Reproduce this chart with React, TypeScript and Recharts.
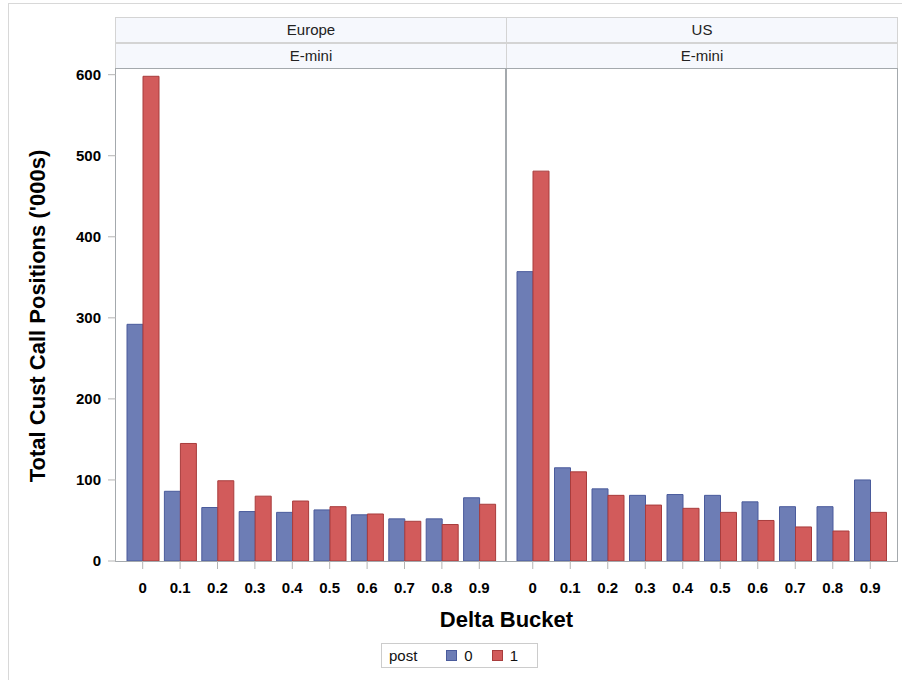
import React from "react";
import { BarChart, Bar, XAxis, YAxis } from "recharts";

// Delta buckets on the x axis
const deltaBuckets = ["0", "0.1", "0.2", "0.3", "0.4", "0.5", "0.6", "0.7", "0.8", "0.9"];

// Total cust call positions ('000s), by panel and post flag
const europePost0 = [292, 86, 66, 61, 60, 63, 57, 52, 52, 78];
const europePost1 = [598, 145, 99, 80, 74, 67, 58, 49, 45, 70];
const usPost0 = [357, 115, 89, 81, 82, 81, 73, 67, 67, 100];
const usPost1 = [481, 110, 81, 69, 65, 60, 50, 42, 37, 60];

const yTicks = [0, 100, 200, 300, 400, 500, 600];
const panels = [
  { region: "Europe", product: "E-mini", post0: europePost0, post1: europePost1 },
  { region: "US", product: "E-mini", post0: usPost0, post1: usPost1 },
];

const COLORS = {
  post0: "#6d7db5",
  post0Edge: "#4a5b9c",
  post1: "#d25b5b",
  post1Edge: "#a83c3c",
  frame: "#a4a9ad",
  tick: "#b4b4b4",
  strip: "#f6f8fd",
  stripEdge: "#d4d4d4",
};

const FONT = "'Liberation Sans', Arial, sans-serif";
const tickStyle = { fontSize: 15, fontWeight: 700, fill: "#000", fontFamily: FONT };

function Panel({ data, showY, width }: { data: any[]; showY: boolean; width: number }) {
  return (
    <BarChart
      width={width}
      height={540}
      data={data}
      margin={{ top: 9, right: 0, bottom: 0, left: 0 }}
      barGap={0}
      barSize={16}
    >
      <XAxis
        dataKey="bucket"
        height={39}
        padding={{ left: 8, right: 8 }}
        axisLine={false}
        tickLine={{ stroke: COLORS.tick }}
        tickSize={8}
        tickMargin={13}
        tick={tickStyle}
        interval={0}
      />
      <YAxis
        hide={!showY}
        width={116}
        domain={[0, 607]}
        ticks={yTicks}
        allowDataOverflow
        axisLine={false}
        tickLine={{ stroke: COLORS.tick }}
        tickSize={8}
        tickMargin={7}
        tick={tickStyle}
      />
      <Bar dataKey="post0" name="0" fill={COLORS.post0} stroke={COLORS.post0Edge} strokeWidth={1} isAnimationActive={false} />
      <Bar dataKey="post1" name="1" fill={COLORS.post1} stroke={COLORS.post1Edge} strokeWidth={1} isAnimationActive={false} />
    </BarChart>
  );
}

export default function App() {
  const tables = panels.map((p) =>
    deltaBuckets.map((b, i) => ({ bucket: b, post0: p.post0[i], post1: p.post1[i] }))
  );

  const strip = (left: number, top: number, label: string) => (
    <div
      key={`${left}-${top}`}
      style={{
        position: "absolute", left, top, width: 392, height: 26, boxSizing: "border-box",
        background: COLORS.strip, border: `1px solid ${COLORS.stripEdge}`,
        fontSize: 15, lineHeight: "24px", textAlign: "center", color: "#222",
      }}
    >
      {label}
    </div>
  );

  return (
    <div style={{ position: "absolute", left: 0, top: 0, width: 902, height: 680, background: "#fff", fontFamily: FONT, overflow: "hidden" }}>
      {/* outer frame */}
      <div style={{ position: "absolute", left: 8, top: 3, width: 900, height: 690, border: "1px solid #d8d8d8", boxSizing: "border-box" }} />

      {/* panel strips */}
      {strip(115, 17, panels[0].region)}
      {strip(506, 17, panels[1].region)}
      {strip(115, 43, panels[0].product)}
      {strip(506, 43, panels[1].product)}

      {/* panel frames */}
      <div style={{ position: "absolute", left: 115, top: 68, width: 783, height: 494, border: `1px solid ${COLORS.frame}`, boxSizing: "border-box" }} />
      <div style={{ position: "absolute", left: 505, top: 68, width: 2, height: 494, background: COLORS.frame }} />

      <div style={{ position: "absolute", left: 0, top: 60 }}>
        <Panel data={tables[0]} showY width={506} />
      </div>
      <div style={{ position: "absolute", left: 506, top: 60 }}>
        <Panel data={tables[1]} showY={false} width={391} />
      </div>

      {/* axis titles */}
      <div
        style={{
          position: "absolute", left: 38, top: 316, transform: "translate(-50%, -50%) rotate(-90deg)",
          whiteSpace: "nowrap", fontSize: 22, fontWeight: 700, color: "#000",
        }}
      >
        Total Cust Call Positions ('000s)
      </div>
      <div style={{ position: "absolute", left: 116, width: 781, top: 607, textAlign: "center", fontSize: 22, fontWeight: 700, color: "#000" }}>
        Delta Bucket
      </div>

      {/* legend */}
      <div
        style={{
          position: "absolute", left: 381, top: 643, width: 157, height: 25, boxSizing: "border-box",
          border: "1px solid #cccccc", display: "flex", alignItems: "center", fontSize: 15, color: "#111",
        }}
      >
        <span style={{ marginLeft: 7, marginRight: 29 }}>post</span>
        <span style={{ width: 11, height: 11, background: COLORS.post0, border: `1px solid ${COLORS.post0Edge}`, boxSizing: "border-box" }} />
        <span style={{ marginLeft: 7, marginRight: 19 }}>0</span>
        <span style={{ width: 11, height: 11, background: COLORS.post1, border: `1px solid ${COLORS.post1Edge}`, boxSizing: "border-box" }} />
        <span style={{ marginLeft: 7 }}>1</span>
      </div>
    </div>
  );
}
